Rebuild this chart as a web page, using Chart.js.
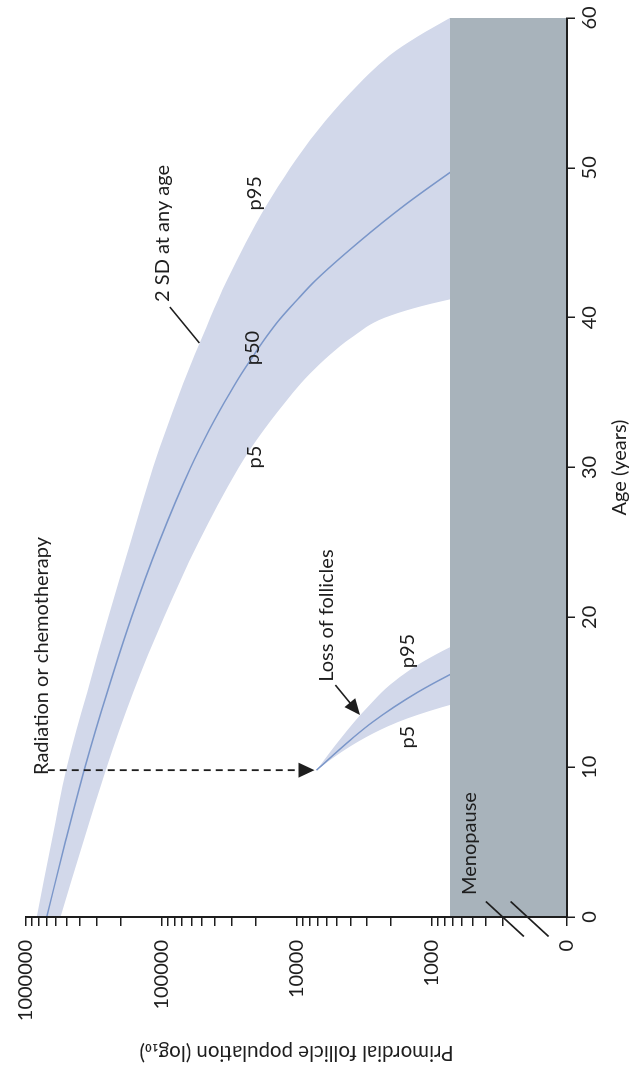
<!DOCTYPE html>
<html>
<head>
<meta charset="utf-8">
<script src="https://cdn.jsdelivr.net/npm/chart.js@4.4.1/dist/chart.umd.min.js"></script>
<style>
  html, body { margin: 0; padding: 0; background: #fff; overflow: hidden; }
  body { width: 630px; height: 1065px; position: relative; }
  /* the figure is laid out landscape and turned a quarter turn anticlockwise */
  #frame {
    position: absolute; left: 0; top: 0; width: 1065px; height: 630px;
    transform-origin: 0 0; transform: translate(0, 1065px) rotate(-90deg);
  }
</style>
</head>
<body>
<div id="frame"><canvas id="chart" width="1065" height="630"></canvas></div>
<script>
// Primordial follicle population by age: untreated centiles
const ageMain = [0, 5, 10, 15, 20, 25, 30, 32.5, 35, 36.25, 37.5, 38.75, 40, 41.25, 42.5, 45, 47.5, 50, 52.5, 55, 57.5, 58.75, 60];
const p95Main = [831000, 647000, 499000, 353000, 247000, 169000, 115000, 92300, 72900, 64400, 56700, 49600, 43400, 37700, 32700, 23700, 16700, 11100, 6970, 4010, 2050, 1280, 736];
const p50Main = [703000, 512000, 366000, 251000, 166000, 104000, 60700, 44200, 31000, 25600, 20700, 16600, 13000, 9750, 7210, 3510, 1590, 655, 260, 95, 40, 25, 15];
const p5Main  = [556000, 378000, 253000, 161000, 95500, 53100, 26700, 17500, 10600, 7980, 5700, 3810, 2230, 711, 112, 40, 20, 10, 6, 4, 3, 2, 2];

// Centiles after radiation or chemotherapy at about age 10
const ageTreated = [9.8, 11, 12, 13, 14, 15, 16, 17, 18, 19];
const p95Treated = [7100, 5650, 4620, 3750, 2990, 2340, 1730, 1180, 736, 416];
const p50Treated = [7100, 5070, 3780, 2750, 1910, 1270, 800, 484, 283, 160];
const p5Treated  = [7100, 4660, 3060, 1790, 841, 308, 80, 40, 20, 10];

// Below this count the ovary is at menopause
const menopauseLevel = 733;

// Axes
const ageTicks = [0, 10, 20, 30, 40, 50, 60];
const countTicks = [1000000, 100000, 10000, 1000];
const countTickLabels = ['1000000', '100000', '10000', '1000'];
const zeroTickAt = 100;                       // the broken axis shows "0" where 100 would fall
const minorSteps = [2, 3, 4, 5, 6, 7, 8, 9];
const lastDecadeSteps = [3, 4, 5, 6, 7, 8, 9]; // 200 sits inside the axis break

const L = Math.log10;
const ink = '#1e1e1e';
const bandFill = '#d2d8ea';
const medianLine = '#7a96c9';
const menopauseFill = '#a8b3bb';
const FONT = 'Lato, "Open Sans", sans-serif';

const yTicks = [];
countTicks.forEach((c, i) => yTicks.push({ value: L(c), label: countTickLabels[i] }));
yTicks.push({ value: L(zeroTickAt), label: '0' });
[100000, 10000, 1000].forEach(d => minorSteps.forEach(k => yTicks.push({ value: L(k * d), label: '' })));
lastDecadeSteps.forEach(k => yTicks.push({ value: L(k * 100), label: '' }));
yTicks.sort((a, b) => a.value - b.value);

const pts = (ages, counts) => ages.map((a, i) => ({ x: a, y: L(counts[i]) }));

const edge = (data, fillTo) => ({
  data, borderWidth: 0, pointRadius: 0, backgroundColor: bandFill,
  fill: fillTo === undefined ? false : fillTo, cubicInterpolationMode: 'monotone'
});
const median = data => ({
  data, borderColor: medianLine, borderWidth: 1.5, pointRadius: 0, fill: false,
  cubicInterpolationMode: 'monotone'
});

// Menopause block, drawn over the curve ends
const menopauseBlock = {
  id: 'menopauseBlock',
  afterDatasetsDraw(chart) {
    const { ctx, scales: { x, y } } = chart;
    const x0 = x.getPixelForValue(ageTicks[0]);
    const x1 = x.getPixelForValue(ageTicks[ageTicks.length - 1]);
    const yTop = y.getPixelForValue(L(menopauseLevel));
    ctx.save();
    ctx.fillStyle = menopauseFill;
    ctx.fillRect(x0, yTop, x1 - x0, y.bottom - yTop);
    ctx.restore();
  }
};

function arrowHead(ctx, fx, fy, tx, ty, len, half) {
  const ang = Math.atan2(ty - fy, tx - fx);
  const bx = tx - len * Math.cos(ang), by = ty - len * Math.sin(ang);
  ctx.beginPath();
  ctx.moveTo(tx, ty);
  ctx.lineTo(bx + half * Math.sin(ang), by - half * Math.cos(ang));
  ctx.lineTo(bx - half * Math.sin(ang), by + half * Math.cos(ang));
  ctx.closePath();
  ctx.fill();
}

// Labels, arrows and the axis break
const notes = {
  id: 'notes',
  afterDraw(chart) {
    const { ctx, scales: { x, y } } = chart;
    const px = a => x.getPixelForValue(a);
    const py = c => y.getPixelForValue(L(c));
    ctx.save();
    ctx.fillStyle = ink;
    ctx.strokeStyle = ink;
    ctx.font = '20px ' + FONT;

    const text = (s, a, c, align, base) => {
      ctx.textAlign = align; ctx.textBaseline = base;
      ctx.fillText(s, px(a), py(c));
    };

    // treatment label and dashed arrow down to the treated curve
    text('Radiation or chemotherapy', 9.48, 691000, 'left', 'alphabetic');
    const ax = px(ageTreated[0]);
    const tipY = py(p50Treated[0]) - 2;
    ctx.lineWidth = 1.8;
    ctx.setLineDash([7, 5]);
    ctx.beginPath();
    ctx.moveTo(ax, py(691000));
    ctx.lineTo(ax, tipY - 14);
    ctx.stroke();
    ctx.setLineDash([]);
    arrowHead(ctx, ax, py(691000), ax, tipY, 16, 7.5);

    // band annotation
    text('2 SD at any age', 41.05, 87900, 'left', 'alphabetic');
    ctx.lineWidth = 1.5;
    ctx.beginPath();
    ctx.moveTo(px(40.71), py(86300));
    ctx.lineTo(px(38.31), py(52200));
    ctx.stroke();

    // centile names
    text('p95', 48.3, 20400, 'center', 'middle');
    text('p50', 37.97, 21100, 'center', 'middle');
    text('p5', 30.7, 20400, 'center', 'middle');
    text('p95', 17.75, 1510, 'center', 'middle');
    text('p5', 12.0, 1510, 'center', 'middle');

    // loss of follicles
    text('Loss of follicles', 15.7, 5330, 'left', 'alphabetic');
    ctx.lineWidth = 1.6;
    const fx = px(15.48), fy = py(5150), tx = px(13.48), ty = py(3390);
    const ang = Math.atan2(ty - fy, tx - fx);
    ctx.beginPath();
    ctx.moveTo(fx, fy);
    ctx.lineTo(tx - 12 * Math.cos(ang), ty - 12 * Math.sin(ang));
    ctx.stroke();
    arrowHead(ctx, fx, fy, tx, ty, 16, 7);

    text('Menopause', 1.47, 468, 'left', 'alphabetic');

    // break marks on the count axis
    ctx.lineWidth = 1.6;
    [288, 189].forEach(c => {
      const cx = x.left - 2, cy = py(c);
      ctx.beginPath();
      ctx.moveTo(cx - 17.5, cy + 19);
      ctx.lineTo(cx + 17.5, cy - 19);
      ctx.stroke();
    });
    ctx.restore();
  }
};

Chart.defaults.font.family = FONT;
Chart.defaults.color = ink;

new Chart(document.getElementById('chart'), {
  type: 'line',
  data: {
    datasets: [
      edge(pts(ageMain, p95Main), 2),
      median(pts(ageMain, p50Main)),
      edge(pts(ageMain, p5Main)),
      edge(pts(ageTreated, p95Treated), 5),
      median(pts(ageTreated, p50Treated)),
      edge(pts(ageTreated, p5Treated))
    ]
  },
  options: {
    responsive: false,
    animation: false,
    events: [],
    layout: { padding: { top: 18, right: 18, left: 0, bottom: 0 } },
    plugins: {
      legend: { display: false },
      tooltip: { enabled: false },
      filler: { drawTime: 'beforeDatasetsDraw' }
    },
    scales: {
      x: {
        type: 'linear',
        min: ageTicks[0], max: ageTicks[ageTicks.length - 1],
        afterFit: s => { s.height = 63; },
        afterBuildTicks: s => { s.ticks = ageTicks.map(v => ({ value: v })); },
        grid: { drawOnChartArea: false, drawTicks: true, tickLength: 8, color: ink, lineWidth: 1.5, z: 1 },
        border: { display: true, color: ink, width: 2, z: 1 },
        ticks: { font: { size: 20, lineHeight: 1.2 }, color: ink, padding: 3, autoSkip: false, maxRotation: 0 },
        title: { display: true, text: 'Age (years)', font: { size: 20, lineHeight: 1 }, color: ink, padding: { top: 0, bottom: 0 } }
      },
      y: {
        type: 'linear',
        min: L(zeroTickAt), max: L(countTicks[0]),
        afterFit: s => { s.width = 148; },
        afterBuildTicks: s => { s.ticks = yTicks.map(t => ({ value: t.value })); },
        grid: { drawOnChartArea: false, drawTicks: true, tickLength: 9, color: ink, lineWidth: 1.5, z: 1 },
        border: { display: true, color: ink, width: 2, z: 1 },
        ticks: {
          font: { size: 20 }, color: ink, padding: 14, autoSkip: false,
          callback: (v, i) => yTicks[i].label
        },
        title: { display: true, text: 'Primordial follicle population (log\u2081\u2080)', font: { size: 20.5, lineHeight: 1 }, color: ink, padding: { top: 2, bottom: 0 } }
      }
    }
  },
  plugins: [menopauseBlock, notes]
});
</script>
</body>
</html>
